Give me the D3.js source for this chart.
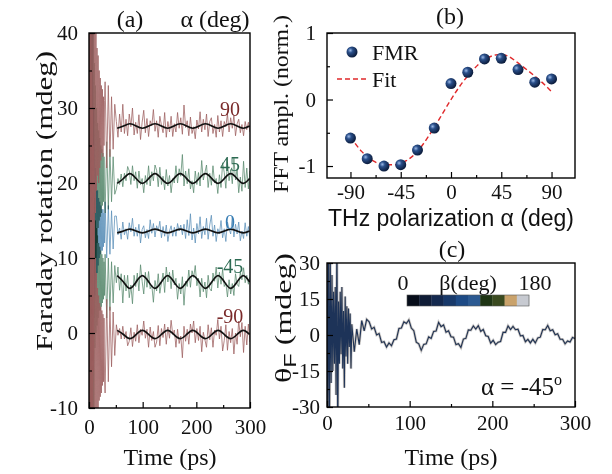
<!DOCTYPE html>
<html>
<head>
<meta charset="utf-8">
<script src="https://cdn.jsdelivr.net/npm/d3@7"></script>
<style>
  body { margin: 0; background: #fff; }
  svg { display: block; }
  text { font-family: "Liberation Serif", "Times New Roman", serif; fill: #111; }
</style>
</head>
<body>
<svg id="chart" width="612" height="474"></svg>
<script>
// ---------- data: panel (a) ----------
// sampling grid of the measured traces (ps): 1 ps steps early, 3 ps after
const traceTimes = d3.range(0, 30, 1).concat(d3.range(30, 301, 3))
const trace90 = [28, 75, -20, 80, -25, 70, -15, 65, -5, 58, 12, 44, 16, 41, 19, 38, 21, 37, 20, 35, 22, 34, 23, 33, 24, 32.5, 23.5, 31.5, 25, 31,
  33.5, 22.0, 33.0, 23.5, 31.5, 24.5, 30.5, 28.2, 26.1, 29.2, 26.8, 30.5, 26.6, 28.5, 26.3, 29.2, 27.5, 30.0, 26.4, 28.1, 26.6, 29.1, 25.8, 28.1, 29.7, 26.7, 28.6,
  26.2, 28.3, 27.6, 29.8, 26.9, 28.3, 26.1, 28.9, 27.7, 26.7, 29.4, 26.1, 28.2, 26.8, 28.9, 26.2, 27.9, 26.8, 29.4, 27.3, 28.7, 26.5, 30.4, 27.4, 28.3, 26.3, 28.8,
  26.6, 27.5, 25.9, 28.4, 27.2, 29.5, 26.8, 28.5, 27.1, 29.2, 26.2, 28.2, 28.7, 26.6, 27.8, 26.1, 29.0, 26.8, 28.3, 26.2, 28.2, 27.5, 29.2, 26.8, 28.7, 27.3, 29.0,
  26.3, 27.9, 28.5, 26.7, 27.8, 26.3, 28.2, 27.1, 28.1, 26.8]
const trace45 = [20, -30, 70, -40, 65, -20, 60, -10, 50, 2, 36, 8, 33, 10, 30, 12, 28, 14, 27, 15, 26, 15.5, 25, 16, 24.5, 17, 24, 17.5, 23.5, 18,
  16.0, 25.5, 16.5, 24.5, 17.5, 23.5, 18.5, 19.2, 20.6, 19.8, 21.2, 19.5, 21.3, 20.3, 22.2, 21.6, 19.8, 22.3, 20.3, 21.5, 19.3, 21.6, 19.8, 20.6, 18.7, 21.0, 19.8,
  22.3, 19.6, 21.5, 20.3, 22.4, 21.7, 19.5, 22.1, 19.8, 20.9, 19.1, 21.8, 19.6, 21.0, 18.7, 20.6, 20.0, 22.3, 20.0, 21.9, 20.9, 23.8, 19.6, 21.6, 19.9, 21.9, 19.2,
  20.3, 18.7, 21.6, 19.8, 21.4, 19.6, 23.0, 20.4, 21.4, 22.4, 19.4, 21.3, 19.7, 22.3, 20.0, 20.6, 18.6, 21.1, 19.4, 22.7, 21.4, 19.3, 22.8, 20.3, 21.8, 19.9, 23.3,
  20.4, 21.9, 18.7, 20.8, 18.9, 22.9, 19.4, 22.0, 19.2, 21.6]
const trace0 = [10, 60, -25, 55, -30, 45, -15, 40, -5, 30, 20, 5, 22, 7, 20, 8, 19, 9, 18, 10, 17.5, 10.5, 17, 11, 16.5, 11, 16.5, 11.5, 16, 12,
  17.5, 10.0, 17.0, 10.5, 16.3, 11.2, 15.6, 15.6, 13.1, 14.0, 12.5, 14.8, 13.1, 13.9, 12.5, 14.7, 13.5, 15.3, 12.9, 14.1, 12.9, 14.5, 12.0, 13.8, 14.3, 12.7, 13.8,
  12.6, 15.1, 13.3, 14.6, 12.8, 14.3, 13.6, 14.9, 12.7, 14.2, 12.9, 14.4, 12.2, 13.6, 14.3, 12.9, 14.1, 12.9, 14.6, 13.6, 14.4, 13.1, 14.5, 12.6, 15.1, 13.0, 15.9,
  12.4, 14.0, 12.0, 14.6, 13.2, 15.5, 12.6, 14.2, 13.1, 15.3, 12.5, 14.4, 15.7, 12.9, 14.4, 12.2, 13.9, 13.2, 15.0, 12.7, 13.9, 12.2, 14.8, 13.9, 13.2, 15.5, 12.8,
  14.5, 13.2, 14.8, 12.3, 13.6, 12.6, 14.7, 12.9, 14.2, 12.4]
const traceM45 = [5, -40, 50, -35, 45, -25, 40, -20, 30, -10, 18, -2, 15, 0, 14, 1, 13, 2, 12, 3, 11.5, 3, 11, 3.5, 10.5, 4, 10, 4.5, 9.5, 5,
  10.5, 2.0, 10.0, 3.0, 9.5, 4.0, 9.0, 6.7, 8.8, 5.7, 7.9, 4.0, 7.7, 5.6, 7.7, 4.7, 6.4, 3.9, 7.7, 6.2, 8.0, 5.6, 9.1, 6.9, 5.2, 8.1, 6.1,
  8.2, 5.9, 6.4, 4.1, 7.0, 5.6, 7.9, 5.3, 6.7, 8.0, 5.4, 8.8, 6.8, 8.1, 5.9, 8.4, 6.4, 7.3, 4.5, 6.6, 5.2, 7.5, 3.7, 6.9, 6.2, 8.4, 6.1,
  8.3, 7.4, 9.0, 6.3, 7.3, 4.8, 7.3, 5.5, 6.8, 4.7, 7.7, 5.9, 5.6, 8.0, 6.9, 8.8, 6.0, 8.1, 6.5, 8.5, 6.2, 6.7, 4.8, 7.1, 5.2, 6.6, 5.0,
  7.9, 6.5, 6.2, 8.1, 7.1, 8.7, 6.7, 7.7, 6.5, 7.5]
const traceM90 = [0, -50, 40, -45, 35, -40, 30, -35, 25, -25, 12, -15, 10, -12, 8, -11, 6, -10, 5, -9, 4, -8.5, 3.5, -8, 3, -7, 2.5, -6.5, 2, -6,
  -8.0, 4.5, -6.5, 3.5, -4.5, 2.8, -3.0, 1.1, -0.3, 0.6, -0.8, 0.9, -0.8, 0.2, -1.7, -1.1, 0.7, -1.8, 0.1, -1.1, 1.1, -1.3, 0.5, -0.3, 1.6, -0.7, 0.5,
  -1.9, 0.8, -1.0, 0.2, -1.9, -1.2, 1.0, -1.7, 0.6, -0.6, 1.2, -1.5, 0.8, -0.7, 1.7, -0.2, 0.4, -1.9, 0.5, -1.4, -0.4, -3.3, 0.9, -1.1, 0.5, -1.5, 1.2,
  0.0, 1.6, -1.3, 0.6, -1.0, 0.9, -2.5, 0.1, -0.9, -1.9, 1.1, -0.9, 0.7, -1.9, 0.4, -0.3, 1.8, -0.8, 0.9, -2.4, -1.0, 1.1, -2.3, 0.2, -1.3, 0.6, -2.8,
  0.0, -1.5, 1.6, -0.5, 1.4, -2.6, 0.9, -1.6, 1.2, -1.2]

// fitted FMR oscillation, read at quarter periods (ps)
const fitTimes = [52.5, 64.3, 76, 87.8, 99.5, 111.3, 123, 134.8, 146.5, 158.3, 170, 181.8, 193.5, 205.3, 217, 228.8, 240.5, 252.3, 264, 275.8, 287.5, 299.3]
const fit90 = [27.3, 27.6, 27.9, 27.6, 27.3, 27.6, 27.9, 27.6, 27.3, 27.6, 27.9, 27.6, 27.3, 27.6, 27.9, 27.6, 27.3, 27.6, 27.9, 27.6, 27.3, 27.6]
const fit45 = [19.95, 20.6, 21.25, 20.6, 19.95, 20.6, 21.25, 20.6, 19.95, 20.6, 21.25, 20.6, 19.95, 20.6, 21.25, 20.6, 19.95, 20.6, 21.25, 20.6, 19.95, 20.6]
const fit0 = [13.35, 13.6, 13.85, 13.6, 13.35, 13.6, 13.85, 13.6, 13.35, 13.6, 13.85, 13.6, 13.35, 13.6, 13.85, 13.6, 13.35, 13.6, 13.85, 13.6, 13.35, 13.6]
const fitM45 = [7.65, 6.8, 5.95, 6.8, 7.65, 6.8, 5.95, 6.8, 7.65, 6.8, 5.95, 6.8, 7.65, 6.8, 5.95, 6.8, 7.65, 6.8, 5.95, 6.8, 7.65, 6.8]
const fitM90 = [0.35, -0.2, -0.75, -0.2, 0.35, -0.2, -0.75, -0.2, 0.35, -0.2, -0.75, -0.2, 0.35, -0.2, -0.75, -0.2, 0.35, -0.2, -0.75, -0.2, 0.35, -0.2]
const alphaLabels = ["90", "45", "0", "-45", "-90"]

// ---------- data: panel (b) ----------
const fmrAngles = [-90, -75, -60, -45, -30, -15, 0, 15, 30, 45, 60, 75, 90]
const fmrAmpl = [-0.58, -0.89, -1.0, -0.98, -0.76, -0.43, 0.24, 0.41, 0.61, 0.62, 0.45, 0.26, 0.31]
const fitAngles = [-90, -80, -70, -60, -50, -40, -30, -20, -10, 0, 10, 20, 30, 40, 45, 50, 60, 70, 80, 90]
const fitAmpl = [-0.56, -0.78, -0.92, -0.98, -0.98, -0.92, -0.78, -0.55, -0.28, 0.0, 0.25, 0.45, 0.6, 0.67, 0.68, 0.66, 0.55, 0.42, 0.28, 0.12]

// ---------- data: panel (c) ----------
const thetaF = [40, -45, 45, -40, 30, -20, 25, -15, 18, -12, 20, -25, 45, -45, 14, -12, 18, -8, 20, -14, 10, -22, 16, -9, 12, -12, 11, -5, 9, -14,
  4.5, -7.0, 2.5, -4.0, 6.0, 1.7, 6.5, 5.5, 2.5, 3.2, 0.0, 0.6, -3.1, -2.8, -5.0, -3.3, -4.5, -2.0, -1.7, 2.7, 2.9, 5.5, 4.8, 6.3, 2.9, 1.8, -3.0,
  -3.7, -6.4, -3.9, -3.7, -0.8, -1.4, 1.5, 1.7, 5.3, 3.5, 4.2, 1.2, 1.8, -0.7, -0.9, -4.0, -3.6, -5.2, -1.7, -1.4, 2.1, 2.0, 3.8, 2.5, 3.9, 1.5, 2.3,
  -0.3, -0.6, -3.4, -2.2, -4.0, -3.0, -2.7, 1.1, 1.1, 3.8, 2.3, 3.6, 2.2, 2.4, -0.4, -0.2, -2.8, -1.8, -3.3, -1.8, -3.3, -1.2, -0.9, 2.3, 2.2, 4.0,
  1.8, 2.2, 0.1, 0.5, -1.8, -1.8, -3.7, -2.5, -2.9, -1.0, -1.5]
const betaColors = ["#070d1a", "#0f1c36", "#14294f", "#18396a", "#1d4a85", "#2c5a92", "#1f3514", "#3a4a1f", "#c9a26b", "#c7cad1"]

// ---------- drawing ----------
const svg = d3.select("#chart")
const serif = '"Liberation Serif", "Times New Roman", serif'

const defs = svg.append("defs")
const ball = defs.append("radialGradient").attr("id", "ball").attr("cx", "35%").attr("cy", "35%").attr("r", "65%")
ball.append("stop").attr("offset", 0).attr("stop-color", "#9ab8e6")
ball.append("stop").attr("offset", 0.35).attr("stop-color", "#2a4f8a")
ball.append("stop").attr("offset", 1).attr("stop-color", "#0c1d3d")

function clip(id, xs, ys) {
  defs.append("clipPath").attr("id", id).append("rect")
    .attr("x", xs.range()[0]).attr("y", ys.range()[1])
    .attr("width", xs.range()[1] - xs.range()[0]).attr("height", ys.range()[0] - ys.range()[1])
}

function axes(xs, ys, o) {
  const yBot = ys.range()[0], xLeft = xs.range()[0]
  const style = g => {
    g.select(".domain").remove()
    g.selectAll("line").attr("stroke", "#000").attr("stroke-width", 1.2)
    g.selectAll("text").style("font-family", serif).style("font-size", o.font + "px")
  }
  svg.append("g").attr("transform", `translate(0,${yBot})`)
    .call(d3.axisBottom(xs).tickValues(o.xMinor).tickSize(-3).tickFormat("")).call(style)
  svg.append("g").attr("transform", `translate(0,${yBot})`)
    .call(d3.axisBottom(xs).tickValues(o.xMajor).tickSizeInner(-6).tickSizeOuter(0).tickPadding(o.xPad).tickFormat(d => d)).call(style)
  svg.append("g").attr("transform", `translate(${xLeft},0)`)
    .call(d3.axisLeft(ys).tickValues(o.yMinor).tickSize(-3).tickFormat("")).call(style)
  svg.append("g").attr("transform", `translate(${xLeft},0)`)
    .call(d3.axisLeft(ys).tickValues(o.yMajor).tickSizeInner(-6).tickSizeOuter(0).tickPadding(o.yPad).tickFormat(d => d)).call(style)
  svg.append("rect")
    .attr("x", xs.range()[0]).attr("y", ys.range()[1])
    .attr("width", xs.range()[1] - xs.range()[0]).attr("height", ys.range()[0] - ys.range()[1])
    .attr("fill", "none").attr("stroke", "#000").attr("stroke-width", 1.4)
}

function label(x, y, txt, size, opts = {}) {
  const t = svg.append("text").attr("x", x).attr("y", y).text(txt)
    .style("font-size", size + "px").attr("text-anchor", opts.anchor || "middle")
  if (opts.fill) t.style("fill", opts.fill)
  if (opts.family) t.style("font-family", opts.family)
  return t
}

function yTitle(x, y, txt, size, len) {
  return svg.append("text").attr("transform", `translate(${x},${y}) rotate(-90)`)
    .attr("text-anchor", "middle").style("font-size", size + "px")
    .attr("textLength", len).attr("lengthAdjust", "spacingAndGlyphs").text(txt)
}

// ----- panel (a) -----
const xa = d3.scaleLinear().domain([0, 300]).range([89, 250])
const ya = d3.scaleLinear().domain([-10, 40]).range([408, 33])
clip("clipA", xa, ya)

const traceLine = d3.line().x((d, i) => xa(traceTimes[i])).y(d => ya(d))
const fitLine = d3.line().x((d, i) => xa(fitTimes[i])).y(d => ya(d)).curve(d3.curveNatural)

const gA = svg.append("g").attr("clip-path", "url(#clipA)")
const traces = [
  { values: trace0, color: "#5b8fb8", blend: "multiply" },
  { values: traceM45, color: "#5a8a6e", blend: "multiply" },
  { values: trace45, color: "#5a8a6e", blend: "multiply" },
  { values: traceM90, color: "#9c5e5e", blend: "normal" },
  { values: trace90, color: "#9c5e5e", blend: "normal" }
]
traces.forEach(s => {
  gA.append("path").datum(s.values).attr("d", traceLine)
    .attr("fill", "none").attr("stroke", s.color).attr("stroke-width", 0.9)
    .attr("stroke-opacity", 0.85).style("mix-blend-mode", s.blend)
})
;[fit90, fit45, fit0, fitM45, fitM90].forEach(f => {
  gA.append("path").datum(f).attr("d", fitLine)
    .attr("fill", "none").attr("stroke", "#111").attr("stroke-width", 1.7)
})

axes(xa, ya, {
  xMajor: [0, 100, 200, 300], xMinor: [50, 150, 250], xPad: 11,
  yMajor: [-10, 0, 10, 20, 30, 40], yMinor: [-5, 5, 15, 25, 35], yPad: 11, font: 21
})

const labelColors = ["#7a2a2a", "#2c6a52", "#3a7fb5", "#2c6a52", "#7a2a2a"]
const labelY = [116, 171, 229, 273, 323]
alphaLabels.forEach((a, i) => label(230, labelY[i], a, 20, { fill: labelColors[i] }))

label(130, 27, "(a)", 24)
label(215, 27, "α (deg)", 24)
label(170, 465, "Time (ps)", 24)
yTitle(52, 201, "Faraday rotation (mdeg)", 24, 300)

// ----- panel (b) -----
const xb = d3.scaleLinear().domain([-111, 111]).range([327, 575])
const yb = d3.scaleLinear().domain([-1.18, 1]).range([178, 33])
clip("clipB", xb, yb)

svg.append("path").datum(fitAmpl)
  .attr("clip-path", "url(#clipB)")
  .attr("d", d3.line().x((d, i) => xb(fitAngles[i])).y(d => yb(d)).curve(d3.curveMonotoneX))
  .attr("fill", "none").attr("stroke", "#e0292b").attr("stroke-width", 1.4).attr("stroke-dasharray", "5,3")

svg.append("g").selectAll("circle").data(fmrAmpl).join("circle")
  .attr("cx", (d, i) => xb(fmrAngles[i])).attr("cy", d => yb(d)).attr("r", 5.5)
  .attr("fill", "url(#ball)")

axes(xb, yb, {
  xMajor: [-90, -45, 0, 45, 90], xMinor: [-67.5, -22.5, 22.5, 67.5], xPad: 6,
  yMajor: [-1, 0, 1], yMinor: [-0.5, 0.5], yPad: 11, font: 21
})

// legend
svg.append("circle").attr("cx", 352).attr("cy", 52).attr("r", 5.5).attr("fill", "url(#ball)")
label(372, 60, "FMR", 22, { anchor: "start" })
svg.append("line").attr("x1", 337).attr("x2", 368).attr("y1", 79).attr("y2", 79)
  .attr("stroke", "#e0292b").attr("stroke-width", 1.4).attr("stroke-dasharray", "5,3")
label(372, 87, "Fit", 22, { anchor: "start" })

label(450, 24, "(b)", 24)
label(451, 226, "THz polarization α (deg)", 23, { family: '"Liberation Sans", Arial, sans-serif' })
yTitle(288, 104, "FFT ampl. (norm.)", 20, 178)

// ----- panel (c) -----
const xc = d3.scaleLinear().domain([0, 300]).range([327, 575])
const yc = d3.scaleLinear().domain([-30, 30]).range([407, 263])
clip("clipC", xc, yc)

const cLine = d3.line().x((d, i) => xc(traceTimes[i])).y(d => yc(d))
const gC = svg.append("g").attr("clip-path", "url(#clipC)")
gC.append("path").datum(thetaF).attr("d", cLine).attr("fill", "none")
  .attr("stroke", betaColors[9]).attr("stroke-width", 2.8).attr("stroke-opacity", 0.85)
gC.append("path").datum(thetaF).attr("d", cLine).attr("fill", "none")
  .attr("stroke", betaColors[8]).attr("stroke-width", 1.6).attr("stroke-opacity", 0.5)
gC.append("path").datum(thetaF).attr("d", cLine).attr("fill", "none")
  .attr("stroke", "#1d3358").attr("stroke-width", 1.1)

axes(xc, yc, {
  xMajor: [0, 100, 200, 300], xMinor: [50, 150, 250], xPad: 8,
  yMajor: [-30, -15, 0, 15, 30], yMinor: [-22.5, -7.5, 7.5, 22.5], yPad: 7, font: 21
})

// colour bar for beta
const cb = d3.scaleBand().domain(d3.range(betaColors.length)).range([407, 529])
svg.append("g").selectAll("rect").data(betaColors).join("rect")
  .attr("x", (d, i) => cb(i)).attr("y", 295).attr("width", cb.bandwidth() + 0.3).attr("height", 11)
  .attr("fill", d => d)
svg.append("rect").attr("x", 407).attr("y", 295).attr("width", 122).attr("height", 11)
  .attr("fill", "none").attr("stroke", "#555").attr("stroke-width", 0.6)
label(403, 290, "0", 22)
label(468, 290, "β(deg)", 22)
label(535, 290, "180", 22)

const ann = label(562, 395, "α = -45", 25, { anchor: "end" })
ann.append("tspan").attr("dy", -10).style("font-size", "16px").text("o")

label(452, 257, "(c)", 24)
label(451, 465, "Time (ps)", 24)
const yt = yTitle(291, 318, "", 23, 130)
yt.append("tspan").text("θ")
yt.append("tspan").attr("dy", 5).style("font-size", "17px").style("font-family", '"Liberation Sans", Arial, sans-serif').text("F")
yt.append("tspan").attr("dy", -5).text(" (mdeg)")
</script>
</body>
</html>
